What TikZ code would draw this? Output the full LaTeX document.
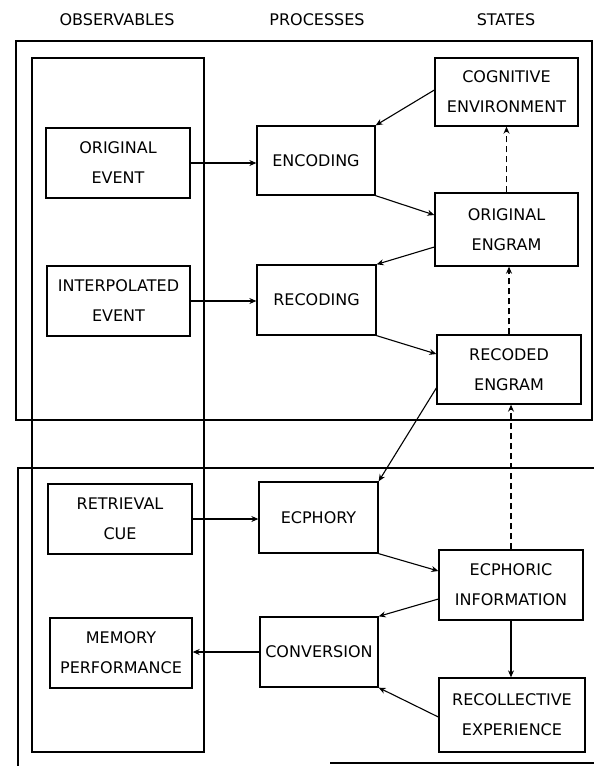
\documentclass[tikz,border=0pt]{standalone}
\usepackage{fontspec}
\setmainfont{DejaVu Sans}
\usetikzlibrary{arrows.meta,calc}
\begin{document}
\begin{tikzpicture}[x=1pt,y=-1pt,
  box/.style={draw, line width=1.3pt, rectangle, align=center, inner sep=0pt, font=\fontsize{16}{30}\selectfont},
  arr/.style={line width=1.1pt, -{Stealth[length=7pt,width=6pt]}},
  darr/.style={arr, dash pattern=on 6pt off 4pt},
  frame/.style={line width=1.4pt},
  hdr/.style={font=\fontsize{16}{18}\selectfont}]
\useasboundingbox (0,0) rectangle (594,766);
% headers
\node[hdr] (h1) at (117,20) {OBSERVABLES};
\node[hdr] (h2) at (317,20) {PROCESSES};
\node[hdr] (h3) at (506,20) {STATES};
% frames
\draw[frame] (16,41) rectangle (592,420);
\draw[frame] (32,58) rectangle (204,752);
\draw[frame] (594,468) -- (18,468) -- (18,766);
\draw[frame] (330,763) -- (594,763);
% observables
\node[box, minimum width=144pt, minimum height=70pt] (oe) at (118,163) {ORIGINAL\\EVENT};
\node[box, minimum width=143pt, minimum height=70pt] (ie) at (118.5,301) {INTERPOLATED\\EVENT};
\node[box, minimum width=144pt, minimum height=70pt] (rc) at (120,519) {RETRIEVAL\\CUE};
\node[box, minimum width=142pt, minimum height=70pt] (mp) at (121,653) {MEMORY\\PERFORMANCE};
% processes
\node[box, minimum width=118pt, minimum height=69pt] (enc) at (316,160.5) {ENCODING};
\node[box, minimum width=119pt, minimum height=70pt] (rec) at (316.5,300) {RECODING};
\node[box, minimum width=119pt, minimum height=71pt] (ecp) at (318.5,517.5) {ECPHORY};
\node[box, minimum width=118pt, minimum height=70pt] (conv) at (319,652) {CONVERSION};
% states
\node[box, minimum width=143pt, minimum height=68pt] (ce) at (506.5,92) {COGNITIVE\\ENVIRONMENT};
\node[box, minimum width=143pt, minimum height=73pt] (oeng) at (506.5,229.5) {ORIGINAL\\ENGRAM};
\node[box, minimum width=144pt, minimum height=69pt] (reng) at (509,369.5) {RECODED\\ENGRAM};
\node[box, minimum width=144pt, minimum height=70pt] (ei) at (511,585) {ECPHORIC\\INFORMATION};
\node[box, minimum width=146pt, minimum height=74pt] (re) at (512,715) {RECOLLECTIVE\\EXPERIENCE};
% horizontal arrows
\draw[arr] (oe.east) -- (oe.east -| enc.west);
\draw[arr] (ie.east) -- (ie.east -| rec.west);
\draw[arr] (rc.east) -- (rc.east -| ecp.west);
\draw[arr] (conv.west) -- (conv.west -| mp.east);
% diagonal arrows
\draw[arr] ($(ce.west)+(0,-2)$) -- (enc.north east);
\draw[arr] (enc.south east) -- ($(oeng.west)+(0,-14.5)$);
\draw[arr] ($(oeng.west)+(0,17.5)$) -- (rec.north east);
\draw[arr] (rec.south east) -- ($(reng.west)+(0,-15.5)$);
\draw[arr] ($(reng.west)+(0,18.5)$) -- (ecp.north east);
\draw[arr] (ecp.south east) -- ($(ei.west)+(0,-14)$);
\draw[arr] ($(ei.west)+(0,14)$) -- (conv.north east);
\draw[arr] ($(re.west)+(0,2)$) -- (conv.south east);
% vertical arrows
\draw[darr] (oeng.north) -- (oeng.north |- ce.south);
\draw[darr] (reng.north) -- (reng.north |- oeng.south);
\draw[darr] (ei.north) -- (ei.north |- reng.south);
\draw[arr] (ei.south) -- (ei.south |- re.north);
\end{tikzpicture}
\end{document}
